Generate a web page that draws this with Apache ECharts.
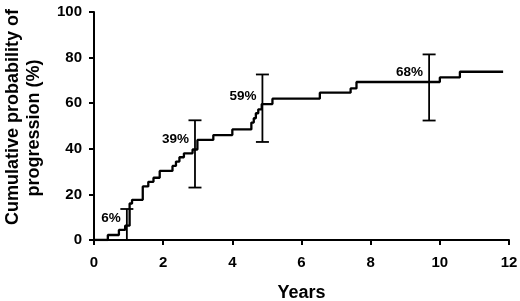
<!DOCTYPE html>
<html>
<head>
<meta charset="utf-8">
<script src="https://cdn.jsdelivr.net/npm/echarts@6/dist/echarts.min.js"></script>
<style>
  html, body { margin: 0; padding: 0; background: #fff; }
  #chart { width: 520px; height: 301px; }
</style>
</head>
<body>
<div id="chart"></div>
<script>
// step curve: year at which the probability jumps, and the new level (%)
var years = [0, 0.40, 0.72, 0.90, 1.03, 1.10, 1.41, 1.57, 1.72, 1.90, 2.27, 2.37, 2.47, 2.60, 2.85, 2.99, 3.45, 4.00, 4.55, 4.62, 4.68, 4.75, 4.85, 5.16, 6.53, 7.42, 7.59, 10.00, 10.58, 11.83];
var cumProb = [0, 2.2, 4.4, 6.3, 16.0, 17.6, 23.5, 25.5, 27.3, 30.3, 32.5, 34.4, 36.3, 38.0, 39.7, 43.9, 46.0, 48.5, 51.5, 53.4, 55.6, 57.3, 59.6, 62.0, 64.6, 66.5, 69.3, 71.3, 73.8, 73.8];

// confidence bars
var barYears = [0.95, 2.92, 4.87, 9.69];
var barLow = [0, 23, 43, 52.4];
var barHigh = [13.6, 52.5, 72.6, 81.4];
var barLabels = ['6%', '39%', '59%', '68%'];
var labelLevel = [9.5, 44, 63, 73.6];

var xTicks = { min: 0, max: 12, interval: 2 };
var yTicks = { min: 0, max: 100, interval: 20 };

var FONT = "'Liberation Sans', Arial, sans-serif";

var curve = [];
for (var i = 0; i < years.length; i++) curve.push([years[i], cumProb[i]]);

var bars = [];
for (var j = 0; j < barYears.length; j++) bars.push([barYears[j], barLow[j], barHigh[j], labelLevel[j]]);

var chart = echarts.init(document.getElementById('chart'));

var option = {
  animation: false,
  backgroundColor: '#fff',
  grid: { left: 94, right: 11, top: 12, bottom: 61, containLabel: false, outerBoundsMode: 'none' },
  xAxis: {
    type: 'value',
    min: xTicks.min, max: xTicks.max, interval: xTicks.interval,
    name: 'Years',
    nameLocation: 'middle',
    nameGap: 44,
    nameTextStyle: { color: '#000', fontWeight: 'bold', fontSize: 18, fontFamily: FONT },
    axisLine: { lineStyle: { color: '#000', width: 2 } },
    axisTick: { show: true, length: 5, lineStyle: { color: '#000', width: 2 } },
    axisLabel: { color: '#000', fontWeight: 'bold', fontSize: 15, fontFamily: FONT, margin: 15 },
    splitLine: { show: false }
  },
  yAxis: {
    type: 'value',
    min: yTicks.min, max: yTicks.max, interval: yTicks.interval,
    axisLine: { show: true, lineStyle: { color: '#000', width: 2 } },
    axisTick: { show: true, length: 5, lineStyle: { color: '#000', width: 2 } },
    axisLabel: { color: '#000', fontWeight: 'bold', fontSize: 15, fontFamily: FONT, margin: 12 },
    splitLine: { show: false }
  },
  graphic: [
    {
      type: 'text', x: 13, y: 117, rotation: Math.PI / 2,
      style: { text: 'Cumulative probability of', align: 'center', verticalAlign: 'middle',
               font: 'bold 18px ' + FONT, fill: '#000' }
    },
    {
      type: 'text', x: 34, y: 128, rotation: Math.PI / 2,
      style: { text: 'progression (%)', align: 'center', verticalAlign: 'middle',
               font: 'bold 18px ' + FONT, fill: '#000' }
    }
  ],
  series: [
    {
      type: 'line',
      step: 'end',
      data: curve,
      symbol: 'none',
      lineStyle: { color: '#000', width: 2.3 },
      z: 3
    },
    {
      type: 'custom',
      data: bars,
      z: 4,
      renderItem: function (params, api) {
        var x = api.value(0);
        var lo = api.coord([x, api.value(1)]);
        var hi = api.coord([x, api.value(2)]);
        var lab = api.coord([x, api.value(3)]);
        var cap = 6.5;
        var ls = { stroke: '#000', lineWidth: 1.8 };
        return {
          type: 'group',
          children: [
            { type: 'line', shape: { x1: lo[0], y1: lo[1], x2: hi[0], y2: hi[1] }, style: ls },
            { type: 'line', shape: { x1: hi[0] - cap, y1: hi[1], x2: hi[0] + cap, y2: hi[1] }, style: ls },
            { type: 'line', shape: { x1: lo[0] - cap, y1: lo[1], x2: lo[0] + cap, y2: lo[1] }, style: ls },
            { type: 'text', style: { text: barLabels[params.dataIndex], x: lab[0] - 6, y: lab[1],
                align: 'right', verticalAlign: 'middle', font: 'bold 13.5px ' + FONT, fill: '#000' } }
          ]
        };
      }
    }
  ]
};

chart.setOption(option);
</script>
</body>
</html>
